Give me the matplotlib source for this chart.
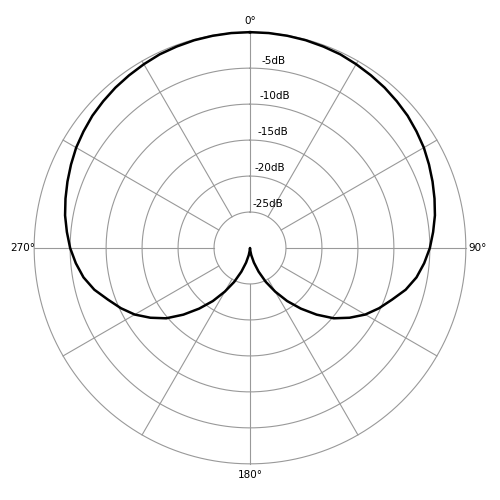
import numpy as np
import matplotlib
matplotlib.use("Agg")
import matplotlib.pyplot as plt

# pickup pattern (one half, mirrored)
angles_deg = [0, 5, 10, 15, 20, 25, 30, 35, 40, 45, 50, 55, 60, 65, 70, 75, 80, 85, 90,
              95, 100, 105, 110, 115, 120, 125, 130, 135, 140, 145, 150, 155, 160, 165, 170, 175, 180]
level_db = [0, -0.01, -0.05, -0.1, -0.2, -0.3, -0.5, -0.7, -0.9, -1.15, -1.4, -1.75, -2.1,
            -2.55, -3.0, -3.45, -3.9, -4.45, -5.0, -5.7, -6.5, -7.6, -9.0, -10.2, -11.5,
            -13.1, -14.8, -16.9, -19.0, -21.0, -23.0, -24.8, -26.5, -27.9, -29.0, -29.7, -30]
ring_db = [-25, -20, -15, -10, -5, 0]
ring_labels = ["-25dB", "-20dB", "-15dB", "-10dB", "-5dB"]
angle_labels = ["0°", "90°", "180°", "270°"]

a = np.array(angles_deg + [360 - x for x in angles_deg[::-1]])
v = np.array(level_db + level_db[::-1])

fig = plt.figure(figsize=(5, 5), dpi=100)
ax = fig.add_axes([0.064, 0.068, 0.872, 0.872], projection="polar")
ax.set_theta_zero_location("N")
ax.set_theta_direction(-1)
ax.set_ylim(-30, 0.3)
ax.grid(False)
ax.spines["polar"].set_visible(False)
ax.set_xticks([])
ax.set_yticks([])

t = np.linspace(0, 2 * np.pi, 400)
for r in ring_db:
    ax.plot(t, np.full_like(t, r), color="#999999", lw=0.8)
for d in range(0, 360, 30):
    ax.plot([np.radians(d)] * 2, [-25, 0], color="#999999", lw=0.8)

ax.plot(np.radians(a), v, color="black", lw=1.8, solid_joinstyle="round")

for r, lab in zip(ring_db, ring_labels):
    ax.text(np.radians(3.5), r + 1.1, lab, fontsize=7.5, ha="left", va="center")

for d, lab in zip([0, 90, 180, 270], angle_labels):
    ax.text(np.radians(d), 1.6, lab, fontsize=7.5, ha="center", va="center", clip_on=False)

fig.savefig("out.png")
